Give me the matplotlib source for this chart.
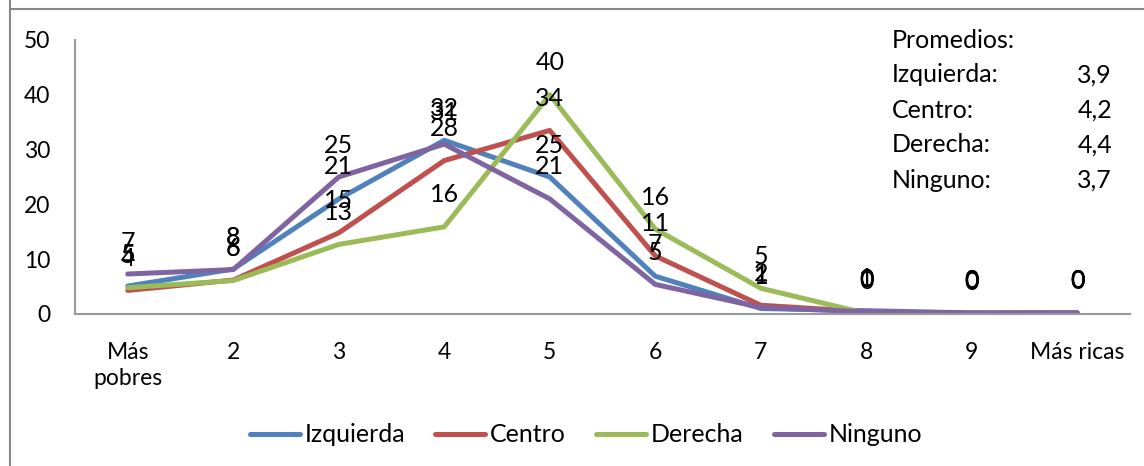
import matplotlib.pyplot as plt
from matplotlib.lines import Line2D

plt.rcParams['font.family'] = ['Lato', 'DejaVu Sans']

categorias = ['Más\npobres', '2', '3', '4', '5', '6', '7', '8', '9', 'Más ricas']
izquierda = [5.1, 8.2, 21.0, 31.7, 25.0, 6.9, 1.0, 0.6, 0.2, 0.2]
centro = [4.3, 6.2, 14.8, 28.0, 33.5, 10.6, 1.6, 0.4, 0.1, 0.2]
derecha = [4.8, 6.1, 12.7, 15.9, 40.0, 15.5, 4.7, 0.1, 0.0, 0.1]
ninguno = [7.3, 8.1, 25.0, 31.0, 21.0, 5.4, 1.2, 0.4, 0.2, 0.2]
promedios = [('Izquierda:', '3,9'), ('Centro:', '4,2'), ('Derecha:', '4,4'), ('Ninguno:', '3,7')]

series = [('Izquierda', izquierda, '#4F81BD'),
          ('Centro', centro, '#C0504D'),
          ('Derecha', derecha, '#9BBB59'),
          ('Ninguno', ninguno, '#8064A2')]

W, H = 1144, 466
fs = 18
fig = plt.figure(figsize=(W / 100, H / 100), dpi=100)
ax = fig.add_axes([75 / W, (H - 314) / H, (1130 - 75) / W, (314 - 40) / H])

x = list(range(len(categorias)))
for nombre, vals, color in series:
    ax.plot(x, vals, color=color, lw=3.6, solid_capstyle='round', label=nombre)
for nombre, vals, color in series:
    for xi, v in zip(x, vals):
        ax.annotate(f'{v:.0f}', (xi, v), xytext=(0, 23), textcoords='offset points',
                    ha='center', va='center', fontsize=fs, color='black')

ax.set_xlim(-0.5, len(categorias) - 0.5)
ax.set_ylim(0, 50)
ax.set_yticks(range(0, 51, 10))
ax.set_xticks(x)
ax.set_xticklabels(categorias, fontsize=16.5, linespacing=1.3)
ax.tick_params(axis='y', labelsize=16.5, length=0, pad=18)
ax.tick_params(axis='x', length=0, pad=20)
for s in ['top', 'right']:
    ax.spines[s].set_visible(False)
for s in ['left', 'bottom']:
    ax.spines[s].set_color('#999999')
    ax.spines[s].set_linewidth(1.5)

# cuadro de promedios
fig.text(892 / W, 1 - 40 / H, 'Promedios:', fontsize=fs, va='center', ha='left')
for i, (lab, val) in enumerate(promedios):
    yy = 1 - (75 + 35 * i) / H
    fig.text(892 / W, yy, lab, fontsize=fs, va='center', ha='left')
    fig.text(1112 / W, yy, val, fontsize=fs, va='center', ha='right')

handles = [Line2D([], [], color=c, lw=3.6, solid_capstyle='round') for _, _, c in series]
fig.legend(handles, [n for n, _, _ in series], loc='center', bbox_to_anchor=(586 / W, 1 - 435 / H),
           ncol=4, frameon=False, fontsize=fs, handlelength=2.0, handletextpad=0.2,
           columnspacing=1.2)

# marco del gráfico
fig.add_artist(Line2D([10 / W, 1], [1 - 9 / H, 1 - 9 / H], color='#888888', lw=1.5))
fig.add_artist(Line2D([10 / W, 10 / W], [0, 1], color='#888888', lw=1.5))

fig.savefig('out.png', dpi=100)
